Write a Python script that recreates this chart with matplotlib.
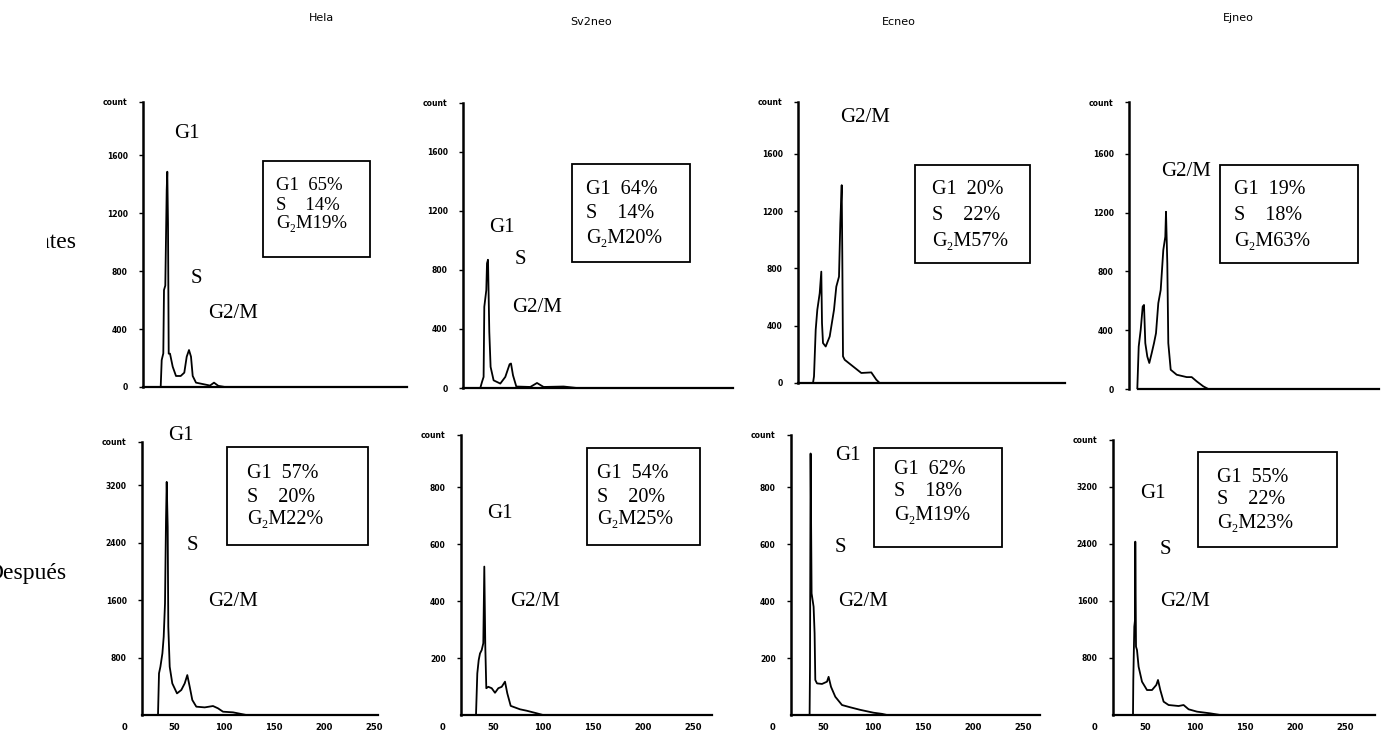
import matplotlib
matplotlib.use('Agg')
import matplotlib.pyplot as plt
from matplotlib.patches import Rectangle
from matplotlib.transforms import Bbox

W, H = 1383, 736

# ---- datos ----
lineas = ['Hela', 'Sv2neo', 'Ecneo', 'Ejneo']
filas = ['Antes', 'Después']

# porcentajes del ciclo celular (G1, S, G2M) en cada caja
g1_antes = [65, 64, 20, 19]
s_antes = [14, 14, 22, 18]
g2m_antes = [19, 20, 57, 63]
g1_desp = [57, 54, 62, 55]
s_desp = [20, 20, 18, 22]
g2m_desp = [22, 25, 19, 23]

# histogramas de ADN: canal / cuentas
hela_antes_canal = [35.7, 36.7, 38.3, 39, 40.3, 41.7, 42.3, 43, 43.7, 45, 47.7, 51, 55.7, 59.3,
                    61.7, 64, 66, 67.7, 71, 85, 89, 93.3, 100]
hela_antes_cuentas = [0, 186, 232, 669, 700, 1359, 1485, 1129, 230, 230, 140, 76, 76, 99,
                      209, 255, 209, 76, 30, 10, 30, 8, 0]
sv_antes_canal = [35.3, 37, 38.6, 39.3, 41.3, 42, 43, 44.3, 45.6, 48.6, 55.3, 60.3, 64.6, 66,
                  68, 71.3, 85.3, 92, 98.6, 118.6, 132]
sv_antes_cuentas = [0, 41, 75, 550, 663, 845, 869, 380, 143, 52, 30, 75, 161, 166,
                    86, 10, 7, 34, 7, 10, 0]
ec_antes_canal = [33, 34, 35.7, 37.3, 39.7, 41.3, 42, 43, 45.7, 49.7, 54, 56.3, 59, 60.3,
                  61.7, 62.3, 63, 64.7, 73, 81.3, 91.3, 96.3, 99.7]
ec_antes_cuentas = [0, 46, 372, 511, 627, 778, 418, 279, 255, 325, 511, 673, 743, 1115,
                    1382, 883, 186, 162, 116, 70, 74, 23, 0]
ej_antes_canal = [26.3, 27.7, 29.7, 31.7, 33, 34.3, 36.3, 38.3, 40.7, 43, 45, 47.3, 49.7, 52.3,
                  54.3, 55, 56.3, 57.3, 59.7, 65.7, 75.7, 80.7, 85.7, 92.3, 97.3]
ej_antes_cuentas = [0, 289, 403, 561, 572, 312, 221, 177, 244, 312, 380, 584, 674, 946,
                    1036, 1206, 855, 312, 131, 97, 81, 81, 52, 18, 0]
hela_desp_canal = [34, 35, 36.4, 38.4, 39.7, 41, 42, 42.7, 43.7, 44.3, 45.7, 48.3, 53, 57.3,
                   60.7, 63.3, 65.7, 68.3, 72.3, 80.7, 89, 94, 99, 109, 117.3, 122.3]
hela_desp_cuentas = [0, 580, 672, 858, 1090, 1553, 2712, 3246, 2620, 1229, 672, 440, 301, 348,
                     440, 556, 394, 209, 116, 106, 125, 93, 46, 37, 14, 0]
sv_desp_canal = [33, 34.3, 35.7, 37, 38.7, 40.3, 41.3, 42.3, 43.3, 45.3, 48.7, 52, 55.3, 58.7,
                 62, 64.3, 67.7, 77, 83.7, 93.7, 100]
sv_desp_cuentas = [0, 146, 193, 216, 228, 252, 521, 240, 94, 99, 94, 78, 94, 99,
                   117, 76, 32, 20, 15, 6, 0]
ec_desp_canal = [36.6, 37, 37.6, 38.6, 40.6, 41.6, 42.3, 44, 49, 54, 55.6, 58, 62.3, 69,
                 77.3, 87.3, 100.6, 109, 114]
ec_desp_cuentas = [0, 170, 918, 427, 380, 287, 123, 111, 109, 117, 134, 99, 64, 35,
                   27, 18, 8, 4, 0]
ej_desp_canal = [38, 38.3, 39.3, 40, 40.3, 41, 42, 43.6, 47, 52, 57, 61.3, 63, 65.3,
                 68.6, 73.6, 83.6, 88.6, 93.6, 102, 115.3, 125.3]
ej_desp_cuentas = [0, 491, 1238, 1332, 2430, 958, 911, 677, 467, 350, 350, 421, 491, 350,
                   187, 140, 126, 140, 80, 47, 23, 0]

yticks_antes = [0, 400, 800, 1200, 1600]
yticks_desp = [[800, 1600, 2400, 3200], [200, 400, 600, 800], [200, 400, 600, 800],
               [800, 1600, 2400, 3200]]
xticks_desp = [0, 50, 100, 150, 200, 250]

canales = [hela_antes_canal, sv_antes_canal, ec_antes_canal, ej_antes_canal,
           hela_desp_canal, sv_desp_canal, ec_desp_canal, ej_desp_canal]
cuentas = [hela_antes_cuentas, sv_antes_cuentas, ec_antes_cuentas, ej_antes_cuentas,
           hela_desp_cuentas, sv_desp_cuentas, ec_desp_cuentas, ej_desp_cuentas]

# ---- maquetacion (pixeles) ----
# eje y (px), arriba, linea base, canal maximo, limite y
paneles = [(143, 102, 387, 282, 1966), (463, 103, 388, 288, 1931),
           (798, 102, 383, 285, 1963), (1129, 102, 389, 268, 1953),
           (142, 442, 715, 254, 3802), (461, 435, 715, 269, 983),
           (791, 435, 715, 267, 983), (1113, 440, 715, 280, 3855)]
# caja: izq, arriba, der, abajo, x texto, y de las tres lineas, tamano letra
cajas = [(263, 161, 370, 257, 276, [186, 205, 224], 13.5),
         (572, 164, 690, 262, 586, [189, 214, 238], 14.5),
         (915, 165, 1030, 263, 932, [190, 216, 241], 14.5),
         (1220, 165, 1358, 263, 1234, [190, 216, 242], 14.5),
         (227, 447, 368, 545, 247, [473, 497, 520], 14.5),
         (587, 448, 700, 545, 597, [473, 497, 520], 14.5),
         (874, 448, 1002, 547, 894, [470, 492, 515], 14.5),
         (1198, 452, 1337, 547, 1217, [477, 500, 523], 14.5)]
fases = [[('G1', 187, 133), ('S', 196, 278), ('G2/M', 233, 313)],
         [('G1', 502, 227), ('S', 520, 260), ('G2/M', 537, 307)],
         [('G2/M', 865, 117)],
         [('G2/M', 1186, 172)],
         [('G1', 181, 436), ('S', 192, 545), ('G2/M', 233, 602)],
         [('G1', 500, 513), ('G2/M', 535, 602)],
         [('G1', 848, 455), ('S', 840, 547), ('G2/M', 863, 602)],
         [('G1', 1153, 493), ('S', 1165, 550), ('G2/M', 1185, 602)]]

serif = ['Liberation Serif', 'DejaVu Serif']

fig = plt.figure(figsize=(W / 100, H / 100), dpi=100)


def fx(px):
    return px / W


def fy(py):
    return 1 - py / H


g1_all = g1_antes + g1_desp
s_all = s_antes + s_desp
g2m_all = g2m_antes + g2m_desp

for i in range(8):
    eje, top, base, xmax, ymax = paneles[i]
    ax = fig.add_axes([fx(eje - 18), fy(base), xmax / W, (base - top) / H])
    ax.plot(canales[i], cuentas[i], color='black', lw=1.3)
    ax.set_xlim(0, xmax)
    ax.set_ylim(0, ymax)
    for s in ['top', 'right']:
        ax.spines[s].set_visible(False)
    ax.spines['left'].set_position(('data', 18))
    ax.spines['left'].set_linewidth(1.8)
    ax.spines['bottom'].set_linewidth(1.6)
    ax.spines['bottom'].set_bounds(27 if i == 3 else 18, xmax)
    if i < 4:
        yt = yticks_antes + [ymax]
        ax.set_xticks([])
    else:
        yt = yticks_desp[i - 4] + [ymax]
        ax.set_xticks(xticks_desp)
        ax.set_xticklabels([str(v) for v in xticks_desp], fontsize=6, fontweight='bold')
        ax.tick_params(axis='x', length=0, pad=6)
    ax.set_yticks(yt)
    ax.set_yticklabels([str(v) for v in yt[:-1]] + ['count'], fontsize=5.5, fontweight='bold')
    ax.tick_params(axis='y', length=3, width=1, pad=8)
    ax.patch.set_visible(False)

    # caja con porcentajes
    l, t, r, b, tx, ly, fs = cajas[i]
    fig.add_artist(Rectangle((fx(l), fy(b)), (r - l) / W, (b - t) / H, fill=False,
                             edgecolor='black', lw=1.3, transform=fig.transFigure))
    textos = ['G1  %d%%' % g1_all[i], 'S    %d%%' % s_all[i], 'G\u2082M%d%%' % g2m_all[i]]
    for txt, yy in zip(textos, ly):
        fig.text(fx(tx), fy(yy), txt, family=serif, fontsize=fs, va='center', ha='left')

    for txt, xx, yy in fases[i]:
        fig.text(fx(xx), fy(yy), txt, family=serif, fontsize=15, va='center', ha='center')

# titulos de columnas
for nombre, xx, yy in zip(lineas, [322, 591, 899, 1238], [18, 22, 22, 18]):
    fig.text(fx(xx), fy(yy), nombre, fontsize=8, ha='center', va='center', family='DejaVu Sans')

# filas (el original esta recortado por la izquierda)
t1 = fig.text(fx(77), fy(242), filas[0], family=serif, fontsize=17, ha='right', va='center')
t1.set_clip_box(Bbox.from_extents(47, 0, W, H))
t1.set_clip_on(True)
fig.text(fx(66), fy(573), filas[1], family=serif, fontsize=17, ha='right', va='center')

fig.savefig('out.png', dpi=100, facecolor='white')
